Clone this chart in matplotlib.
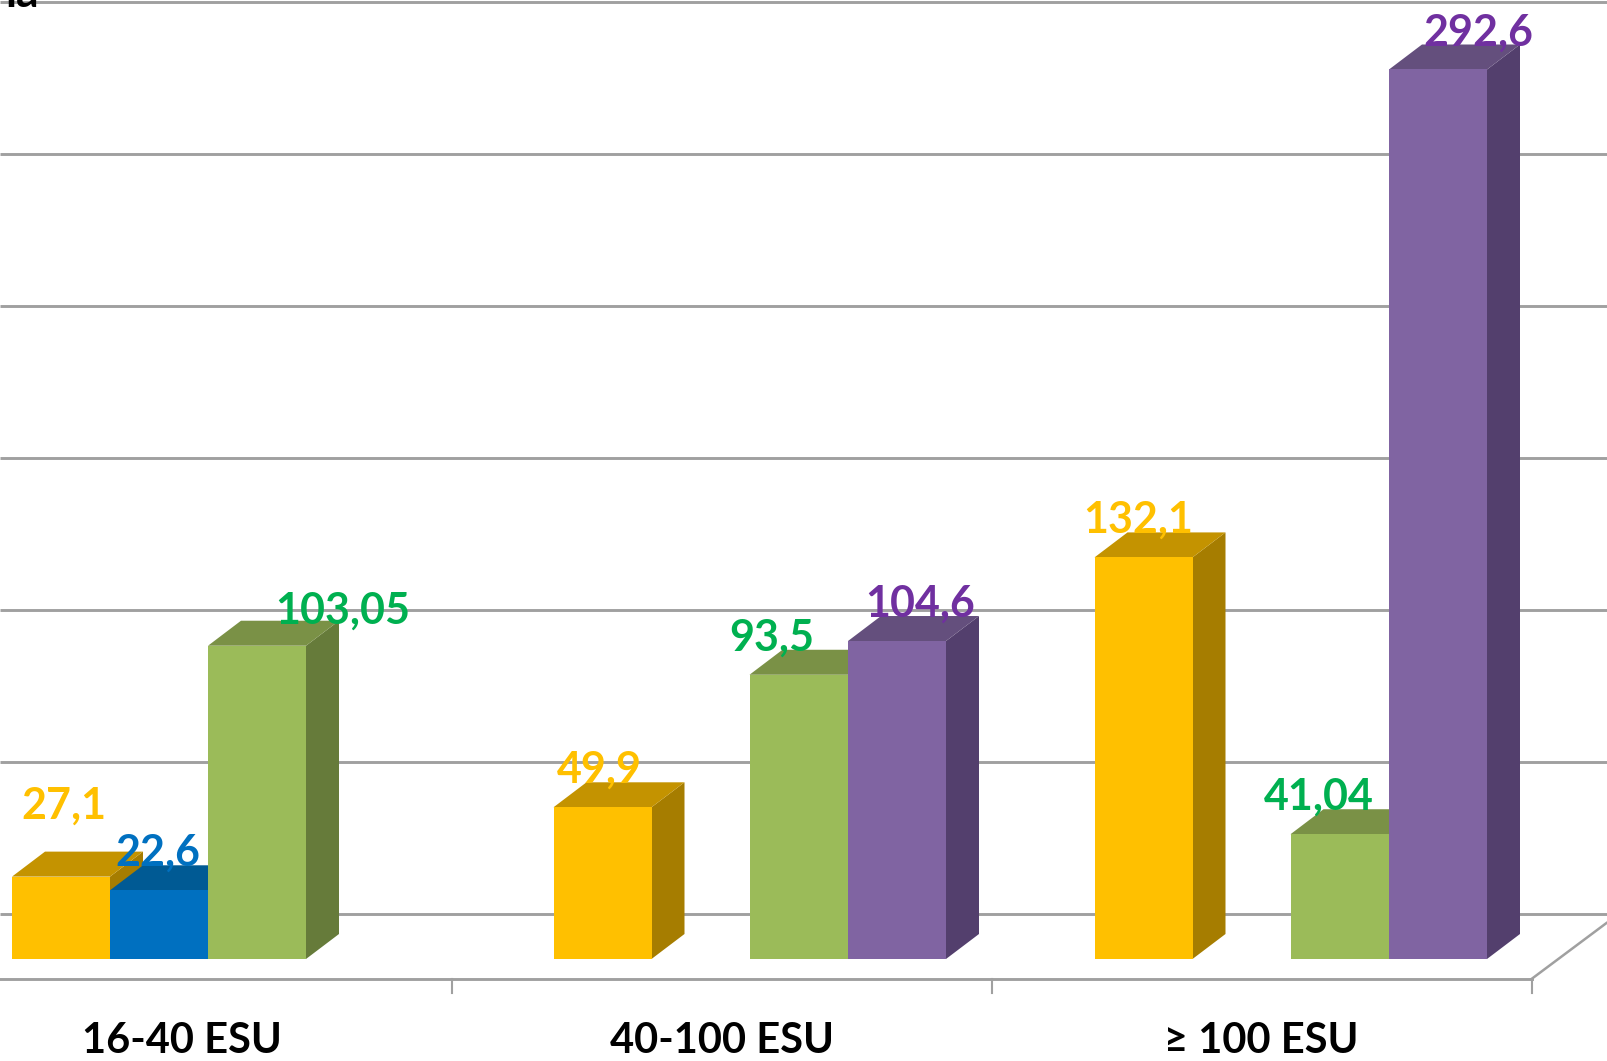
import matplotlib
matplotlib.use('Agg')
import matplotlib.pyplot as plt
import numpy as np

plt.rcParams['font.family'] = ['Lato', 'DejaVu Sans']

categories = ['16-40 ESU', '40-100 ESU', '≥ 100 ESU']
yellow_values = [27.1, 49.9, 132.1]
blue_values = [22.6, None, None]
green_values = [103.05, 93.5, 41.04]
purple_values = [None, 104.6, 292.6]
yellow_labels = ['27,1', '49,9', '132,1']
blue_labels = ['22,6', None, None]
green_labels = ['103,05', '93,5', '41,04']
purple_labels = [None, '104,6', '292,6']
grid_values = [0, 50, 100, 150, 200, 250, 300]

W, H = 1607, 1061
PX_X = 540.0    # pixels per category
PX_Y = 3.04     # pixels per value unit
X0 = 181.5      # pixel of first category centre
Y0 = 959.0      # pixel of value 0 on the front of the bars

fig = plt.figure(figsize=(W / 100, H / 100), dpi=100, facecolor='white')
ax = fig.add_axes([0, 0, 1, 1])
ax.set_xlim(-X0 / PX_X, (W - X0) / PX_X)
ax.set_ylim(-(H - Y0) / PX_Y, Y0 / PX_Y)
ax.axis('off')

bar_w = 98.0 / PX_X
dx = 33 / PX_X    # 3D depth of the bars
dy = 25 / PX_Y
wall_dy = 45 / PX_Y    # back wall sits higher than the bars
floor_y = -20 / PX_Y
grid_color = '#A0A0A0'
group_shift = [-0.5, 1.0, 2.0]    # bars drift a little from the category centres

# back wall grid
for v in grid_values:
    ax.plot([ax.get_xlim()[0], ax.get_xlim()[1]], [v + wall_dy, v + wall_dy],
            color=grid_color, lw=2.1, zorder=1, solid_capstyle='butt')

# floor and ticks
xs = np.arange(len(categories))
floor_end = xs[-1] + 0.5
ax.plot([ax.get_xlim()[0], floor_end], [floor_y, floor_y], color=grid_color, lw=2.1, zorder=1)
ax.plot([floor_end, floor_end + 75 / PX_X], [floor_y, floor_y + 56 / PX_Y], color=grid_color, lw=1.8, zorder=1)
for t in xs + 0.5:
    ax.plot([t, t], [floor_y, floor_y - 14 / PX_Y], color=grid_color, lw=1.5, zorder=1)

series = [
    (yellow_values, yellow_labels, -120.0, '#FFC000', '#C49300', '#A67D00', '#FFC000'),
    (blue_values, blue_labels, -22.0, '#0070C0', '#005A94', '#00508A', '#0070C0'),
    (green_values, green_labels, 76.0, '#9BBB59', '#7A9146', '#667B3A', '#00B050'),
    (purple_values, purple_labels, 174.5, '#8064A2', '#644F7D', '#533F6D', '#7030A0'),
]

# per-label nudges in pixels (the labels were hand placed in the original)
nudge = {'27,1': (3, 71), '103,05': (86, 35), '93,5': (-27, 37), '104,6': (23, 37),
         '41,04': (-21, 38), '292,6': (40, 37), '132,1': (-5, 38), '22,6': (-1, 38), '49,9': (-3, 38)}

z = 2
for values, labels, off, front, top, side, txt in series:
    for i, (v, lab) in enumerate(zip(values, labels)):
        if v is None:
            continue
        c = i + (off + group_shift[i]) / PX_X
        l, r = c - bar_w / 2, c + bar_w / 2
        ax.fill([r, r + dx, r + dx, r], [0, dy, v + dy, v], color=side, lw=0, zorder=z)
        ax.fill([l, r, r + dx, l + dx], [v, v, v + dy, v + dy], color=top, lw=0, zorder=z)
        ax.bar(c, v, width=bar_w, color=front, linewidth=0, zorder=z)
        ox, oy = nudge[lab]
        ax.text(c + ox / PX_X, v + oy / PX_Y, lab, color=txt, fontsize=31, fontweight='bold',
                ha='center', va='center', zorder=20)
        z += 1

for x, name in zip(xs, categories):
    ax.text(x, -(1041 - Y0) / PX_Y, name, color='black', fontsize=30, fontweight='bold',
            ha='center', va='center', zorder=20)

# cut off title at the top left of the original
ax.text(39 / PX_X + ax.get_xlim()[0], (Y0 - 7) / PX_Y, 'la', color='black', fontsize=32,
        fontweight='bold', ha='right', va='baseline', zorder=20)

fig.savefig('out.png', dpi=100, facecolor='white')
